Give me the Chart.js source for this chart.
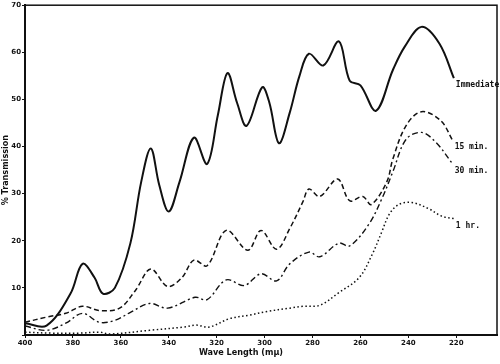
<!DOCTYPE html>
<html>
<head>
<meta charset="utf-8">
<script src="https://cdn.jsdelivr.net/npm/chart.js@4"></script>
<style>
html, body { margin: 0; background: #fff; }
</style>
</head>
<body>
<canvas id="chart" width="500" height="364"></canvas>
<script>
// wave length (m\u03bc) and % transmission
var immediateNm = [400, 391, 381, 376, 371, 367.5, 362.5, 356, 351.5, 347.5, 344, 340, 335.5, 329.5, 324, 319.5, 315.5, 311.5, 307.5, 301, 298, 294, 289.5, 285.5, 281.5, 275.5, 269, 264.5, 260, 253.5, 246.5, 241.5, 234.5, 227, 221]
var immediateT = [2.5, 2.0, 8.8, 15.1, 12.2, 8.8, 10, 19.5, 32.5, 39.6, 31.9, 26.2, 32.5, 41.9, 36.3, 46.7, 55.6, 49.3, 44.4, 52.6, 49.3, 40.7, 47.2, 54.9, 59.7, 57.2, 62.3, 54, 53, 47.6, 56.2, 61.2, 65.4, 61.8, 54.5]

var min15Nm = [400, 391, 383, 376, 369, 360.5, 354, 347.5, 340.5, 334.5, 329.5, 324, 316, 307, 301.5, 295, 289.5, 284, 281.5, 277, 269.5, 264.5, 259, 255.5, 249, 246.5, 241, 234.5, 226.5, 221.5]
var min15T = [2.7, 3.8, 4.6, 6.1, 5.2, 5.7, 9.4, 14, 10.3, 12.2, 15.9, 14.7, 22.2, 18, 22.2, 18.2, 22.6, 28.3, 31, 29.4, 33.1, 28.5, 29.4, 27.7, 32.5, 37.3, 44.4, 47.4, 45.5, 41.3]

var min30Nm = [400, 391, 383, 376, 369, 362.5, 356, 348, 340.5, 329, 324, 316, 308.5, 301.5, 295, 289.5, 281.5, 277, 269, 264.5, 256.5, 251, 246.5, 241, 234.5, 228.5, 221.5]
var min30T = [1.9, 1.0, 2.5, 4.6, 2.7, 3.1, 4.8, 6.7, 5.7, 8, 7.5, 11.7, 10.5, 13, 11.5, 15.1, 17.6, 16.6, 19.5, 18.9, 23.5, 29, 34.6, 41.5, 43, 40.9, 36.3]

var hr1Nm = [400, 389.5, 377, 369, 364.5, 348, 333.5, 328.5, 323, 314.5, 306.5, 299, 289.5, 284, 277, 269, 260.5, 255, 251, 248, 244, 238.5, 231.5, 226, 221]
var hr1T = [0.6, 0.4, 0.4, 0.6, 0.2, 1, 1.7, 2.1, 1.7, 3.5, 4.2, 5, 5.7, 6.1, 6.3, 9, 12.2, 17.2, 22, 25.6, 27.7, 28.1, 26.8, 25.2, 24.7]

var xTicks = [400, 380, 360, 340, 320, 300, 280, 260, 240, 220]
var yTicks = [0, 10, 20, 30, 40, 50, 60, 70]

function points(xs, ys) {
	var p = []
	for (var i = 0; i < xs.length; i++) {
		p.push({x: xs[i], y: ys[i]})
	}
	return p
}

function series(label, xs, ys, dash, width) {
	return {
		label: label,
		data: points(xs, ys),
		borderColor: '#111',
		borderWidth: width,
		borderDash: dash,
		pointRadius: 0,
		tension: 0.35,
		fill: false
	}
}

// frame round the plot, end labels and the x title
var extras = {
	id: 'extras',
	afterDatasetsDraw: function(chart) {
		var ctx = chart.ctx
		var a = chart.chartArea
		ctx.save()
		ctx.strokeStyle = '#111'
		ctx.lineWidth = 1.5
		ctx.strokeRect(a.left, a.top, a.right - a.left, a.bottom - a.top)

		ctx.fillStyle = '#111'
		ctx.font = 'bold 8px "DejaVu Sans Mono"'
		ctx.textBaseline = 'middle'
		chart.data.datasets.forEach(function(ds, i) {
			var els = chart.getDatasetMeta(i).data
			var last = els[els.length - 1]
			ctx.fillText(ds.label, last.x + 2, last.y + 7)
		})

		ctx.font = 'bold 9px "DejaVu Sans Condensed"'
		ctx.textAlign = 'center'
		ctx.fillText('Wave Length (m\u03bc)', 241, 353)
		ctx.restore()
	}
}

var ctx = document.getElementById('chart').getContext('2d')
var chart = new Chart(ctx, {
	type: 'line',
	data: {
		datasets: [
			series('Immediate', immediateNm, immediateT, [], 2),
			series('15 min.', min15Nm, min15T, [5, 3], 1.5),
			series('30 min.', min30Nm, min30T, [6, 3, 2, 3], 1.4),
			series('1 hr.', hr1Nm, hr1T, [1.5, 2.5], 1.5)
		]
	},
	plugins: [extras],
	options: {
		responsive: false,
		animation: false,
		layout: {
			padding: {top: 1, right: 3, left: 0, bottom: 0}
		},
		plugins: {
			legend: {display: false},
			tooltip: {enabled: false}
		},
		scales: {
			x: {
				type: 'linear',
				reverse: true,
				min: 203,
				max: 400,
				afterBuildTicks: function(s) {
					s.ticks = xTicks.map(function(v) { return {value: v} })
				},
				afterFit: function(s) { s.height = 29 },
				grid: {drawOnChartArea: false, tickLength: 3, color: '#111'},
				border: {color: '#111', width: 2},
				ticks: {
					color: '#111',
					font: {family: 'DejaVu Sans', size: 7, weight: 'bold'},
					padding: 1,
					maxRotation: 0
				}
			},
			y: {
				min: 0,
				max: 70,
				afterBuildTicks: function(s) {
					s.ticks = yTicks.map(function(v) { return {value: v} })
				},
				afterFit: function(s) { s.width = 25 },
				grid: {drawOnChartArea: false, tickLength: 3, color: '#111'},
				border: {color: '#111', width: 2},
				ticks: {
					color: '#111',
					font: {family: 'DejaVu Sans', size: 7, weight: 'bold'},
					padding: 1,
					callback: function(v) { return v === 0 ? '' : v }
				},
				title: {
					display: true,
					text: '% Transmission',
					color: '#111',
					font: {family: 'DejaVu Sans Condensed', size: 9, weight: 'bold'},
					padding: 0
				}
			}
		}
	}
})
</script>
</body>
</html>
